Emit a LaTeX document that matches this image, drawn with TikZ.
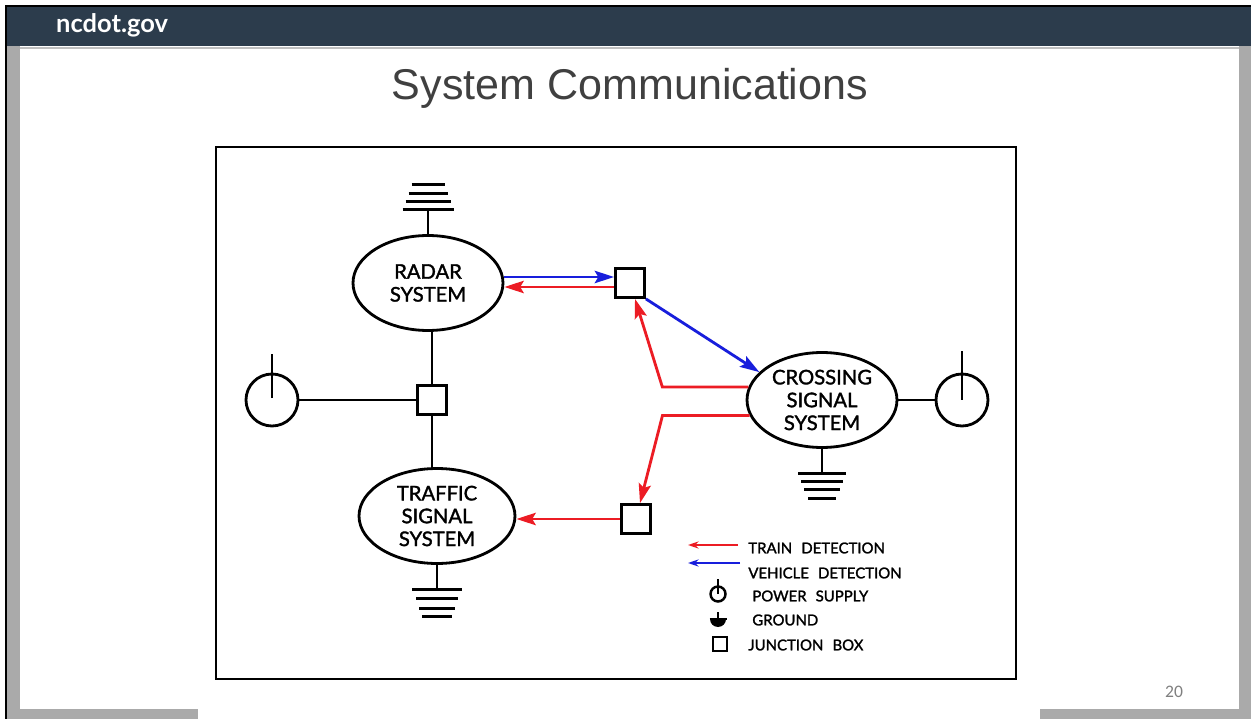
\documentclass[tikz,border=0pt]{standalone}
\usepackage{fontspec}
\setmainfont{Lato}
\newfontfamily\titlefont{Liberation Sans}
\newfontfamily\numfont{Carlito}
\newfontfamily\labelfont{Lato}[FakeBold=1.6]
\usetikzlibrary{arrows.meta,shapes.geometric,positioning}

\definecolor{headbar}{RGB}{44,60,76}
\definecolor{trainred}{RGB}{236,28,36}
\definecolor{vehblue}{RGB}{24,30,220}
\definecolor{titlegray}{RGB}{64,64,64}
\definecolor{edgegray}{RGB}{170,170,170}

\begin{document}
\begin{tikzpicture}[x=0.02cm,y=-0.02cm,
	sys/.style={ellipse,draw,line width=1.6pt,minimum width=3cm,minimum height=1.9cm,inner sep=0pt,align=center,font=\labelfont\fontsize{11.5}{13}\selectfont},
	jbox/.style={rectangle,draw,line width=1.6pt,minimum size=0.58cm,inner sep=0pt},
	pwr/.style={circle,draw,line width=1.6pt,minimum size=1.04cm,inner sep=0pt},
	wire/.style={line width=1.6pt},
	train/.style={line width=1.6pt,trainred,-{Stealth[length=11pt,width=7pt,inset=2pt]}},
	vehicle/.style={line width=1.6pt,vehblue,-{Stealth[length=11pt,width=7pt,inset=2pt]}},
	legtext/.style={anchor=west,font=\labelfont\fontsize{8.5}{9}\selectfont,inner sep=0pt}
	]
		\useasboundingbox (0,0) rectangle (1251,719);
		% slide frame
		\fill[white] (0,0) rectangle (1251,719);
		\fill[edgegray] (7,46) rectangle (20,719);
		\fill[edgegray] (1239,46) rectangle (1251,719);
		\fill[edgegray] (7,709) rectangle (1251,719);
		\fill[headbar] (7,7) rectangle (1251,46);
		\draw[line width=1.5pt] (6,719) -- (6,6) -- (1251,6);
		\draw[gray!50, line width=0.6pt] (20,48) -- (1239,48);
		\node[anchor=west, text=white, font=\bfseries\fontsize{14.5}{16}\selectfont] (site) at (50,25) {ncdot.gov};
		\node[text=titlegray, font=\titlefont\fontsize{24.5}{28}\selectfont] (title) at (630,88) {System Communications};
		\node[text=gray, font=\numfont\fontsize{10}{12}\selectfont] (pagenum) at (1174,692) {20};
		% diagram box
		\fill[white] (198,681) rectangle (1040,719);
		\draw[line width=1.6pt] (216,147) rectangle (1016,679);

		% systems, junction boxes, power supplies
		\node[sys] (radar) at (428,283) {RADAR\\SYSTEM};
		\node[sys] (crossing) at (822,400) {CROSSING\\SIGNAL\\SYSTEM};
		\node[sys, minimum width=3.12cm] (traffic) at (437,516) {TRAFFIC\\SIGNAL\\SYSTEM};
		\node[jbox] (jbtop) at (630,283) {};
		\node[jbox] (jbmid) at (432,400) {};
		\node[jbox] (jblow) at (636,519) {};
		\node[pwr] (pwrleft) at (272,400) {};
		\node[pwr] (pwrright) at (962,400) {};
		\draw[wire] ([yshift=0.04cm]pwrleft.center) -- ([yshift=0.92cm]pwrleft.center);
		\draw[wire] (pwrright.center) -- ([yshift=0.98cm]pwrright.center);

		% grounds
		\draw[wire] (radar.north) -- ++(0,-25) coordinate (radargnd);
		\foreach \w/\dy in {51/0,45/8,39/16,33/25}
			\draw[wire] (radargnd) ++(-\w/2,-\dy) -- ++(\w,0);
		\draw[wire] (crossing.south) -- ++(0,25) coordinate (crossgnd);
		\foreach \w/\dy in {48/0,42/8,36/16,28/25}
			\draw[wire] (crossgnd) ++(-\w/2,\dy) -- ++(\w,0);
		\draw[wire] (traffic.south) -- ++(0,25) coordinate (trafficgnd);
		\foreach \w/\dy in {50/0,42/9,36/19,30/27}
			\draw[wire] (trafficgnd) ++(-\w/2,\dy) -- ++(\w,0);

		% wiring
		\draw[wire] (pwrleft) -- (jbmid);
		\draw[wire] (jbmid) -- (jbmid |- radar.south);
		\draw[wire] (jbmid) -- (jbmid |- traffic.north);
		\draw[wire] (crossing) -- (pwrright);

		% detection links
		\draw[vehicle] ([yshift=0.12cm]radar.east) -- ([yshift=0.12cm]jbtop.west);
		\draw[train] ([yshift=-0.08cm]jbtop.west) -- ([yshift=-0.08cm]radar.east);
		\draw[vehicle] (jbtop.south east) -- (crossing.156);
		\draw[train] (crossing.170) -- ++(-86,0) -- ([xshift=0.1cm]jbtop.south);
		\draw[train] (crossing.192) -- ++(-87,0) -- ([xshift=0.08cm]jblow.north);
		\draw[train] (jblow.west) -- (jblow.west -| traffic.east);

		% legend
		\node[legtext] (ltrain) at (748,548) {TRAIN\hspace{3pt} DETECTION};
		\node[legtext] (lvehicle) at (748,573) {VEHICLE\hspace{3pt} DETECTION};
		\node[legtext] (lpower) at (752,596) {POWER\hspace{3pt} SUPPLY};
		\node[legtext] (lground) at (752,620) {GROUND};
		\node[legtext] (ljbox) at (748,645) {JUNCTION\hspace{3pt} BOX};
		\draw[line width=1.4pt, trainred, -{Stealth[length=6pt,width=4pt]}] ([xshift=-0.2cm,yshift=0.06cm]ltrain.west) -- ++(-50,0);
		\draw[line width=1.4pt, vehblue, -{Stealth[length=6pt,width=4pt]}] ([xshift=-0.16cm,yshift=0.2cm]lvehicle.west) -- ++(-52,0);
		\node[circle,draw,line width=1.4pt,minimum size=0.3cm,inner sep=0pt] (lpwrsym) at (718,594) {};
		\draw[line width=1.4pt] (lpwrsym.center) -- ([yshift=0.3cm]lpwrsym.center);
		\draw[line width=1.4pt] (718,612) -- (718,619) coordinate (lgndbar);
		\draw[line width=1.4pt] (lgndbar) ++(-8.5,0) -- ++(17,0);
		\fill (lgndbar) ++(-0.16cm,0) arc[start angle=180,end angle=360,radius=0.16cm] -- cycle;
		\node[rectangle,draw,line width=1.4pt,minimum size=0.28cm,inner sep=0pt] (ljbsym) at (720,644) {};
	\end{tikzpicture}
\end{document}
